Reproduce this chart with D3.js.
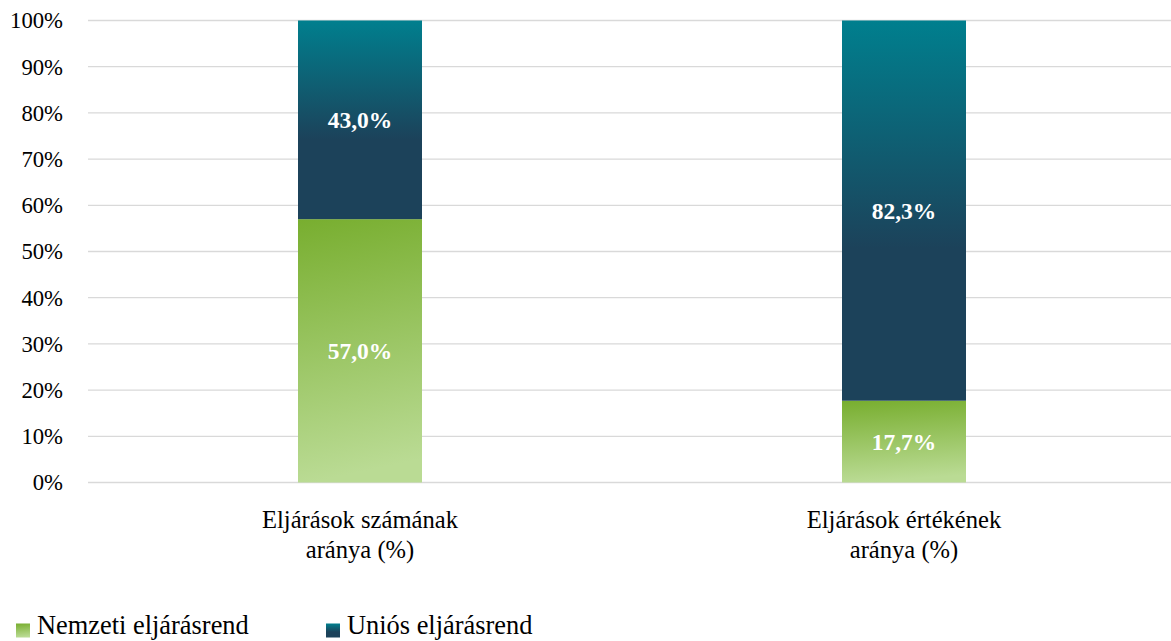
<!DOCTYPE html>
<html><head><meta charset="utf-8">
<script src="https://cdn.jsdelivr.net/npm/d3@7"></script>
<style>body{margin:0;background:#fff}svg{display:block}</style>
</head><body>
<script>
const categories = [["Eljárások számának","aránya (%)"],["Eljárások értékének","aránya (%)"]];
const seriesNames = ["Nemzeti eljárásrend","Uniós eljárásrend"];
const nemzeti = [57.0, 17.7];
const unios = [43.0, 82.3];
const tickValues = [0,10,20,30,40,50,60,70,80,90,100];

const W=1171,H=641, font="'Liberation Serif', serif";
const m={l:88,r:-5,t:20.5,b:158.5};
const svg=d3.select("body").append("svg").attr("width",W).attr("height",H);
const defs=svg.append("defs");
const gG=defs.append("linearGradient").attr("id","gG").attr("x1",0).attr("y1",0).attr("x2",0.1).attr("y2",1);
gG.append("stop").attr("offset",0).attr("stop-color","#78ae2f");
gG.append("stop").attr("offset",1).attr("stop-color","#badb94");
const gB=defs.append("linearGradient").attr("id","gB").attr("x1",0).attr("y1",0).attr("x2",0).attr("y2",1);
gB.append("stop").attr("offset",0).attr("stop-color","#007f8e");
gB.append("stop").attr("offset",0.6).attr("stop-color","#1c425a");
gB.append("stop").attr("offset",1).attr("stop-color","#1c425a");

const x=d3.scaleBand().domain(d3.range(categories.length)).range([m.l,W-m.r]).paddingInner(0.772).paddingOuter(0.386);
const y=d3.scaleLinear().domain([0,100]).range([H-m.b,m.t]);

svg.append("g").selectAll("line").data(tickValues).join("line")
 .attr("x1",m.l).attr("x2",W).attr("y1",d=>y(d)).attr("y2",d=>y(d))
 .attr("stroke","#d9d9d9").attr("stroke-width",1.3);
svg.append("g").selectAll("text").data(tickValues).join("text")
 .attr("x",63).attr("y",d=>y(d)).attr("dy","0.35em").attr("text-anchor","end")
 .attr("font-family",font).attr("font-size",22.7).attr("fill","#000").text(d=>d+"%");

const stack=categories.map((c,i)=>({i,n:nemzeti[i],u:unios[i]}));
const bw=124;
const g=svg.append("g");
stack.forEach(d=>{
  const cx=x(d.i)+x.bandwidth()/2;
  g.append("rect").attr("x",cx-bw/2).attr("width",bw).attr("y",y(d.n)).attr("height",y(0)-y(d.n)).attr("fill","url(#gG)");
  g.append("rect").attr("x",cx-bw/2).attr("width",bw).attr("y",y(d.n+d.u)).attr("height",y(d.n)-y(d.n+d.u)).attr("fill","url(#gB)");
  const fmt=v=>v.toFixed(1).replace(".",",")+"%";
  g.append("text").attr("x",cx).attr("y",y(d.n/2)).attr("dy","0.35em").attr("text-anchor","middle")
   .attr("font-family",font).attr("font-weight","bold").attr("font-size",23.5).attr("fill","#fff").text(fmt(d.n));
  g.append("text").attr("x",cx).attr("y",y(d.n+d.u/2)).attr("dy","0.35em").attr("text-anchor","middle")
   .attr("font-family",font).attr("font-weight","bold").attr("font-size",23.5).attr("fill","#fff").text(fmt(d.u));
  const t=svg.append("text").attr("text-anchor","middle").attr("font-family",font).attr("font-size",24.6).attr("fill","#000");
  categories[d.i].forEach((line,k)=>t.append("tspan").attr("x",cx).attr("y",528+k*29.5).text(line));
});

const leg=[{name:seriesNames[0],fill:"url(#gG)",x:16},{name:seriesNames[1],fill:"url(#gB)",x:326}];
leg.forEach(l=>{
  svg.append("rect").attr("x",l.x).attr("y",623.5).attr("width",14).attr("height",14).attr("fill",l.fill);
  svg.append("text").attr("x",l.x+21).attr("y",634).attr("font-family",font).attr("font-size",26.4).attr("fill","#000").text(l.name);
});
</script>
</body></html>
